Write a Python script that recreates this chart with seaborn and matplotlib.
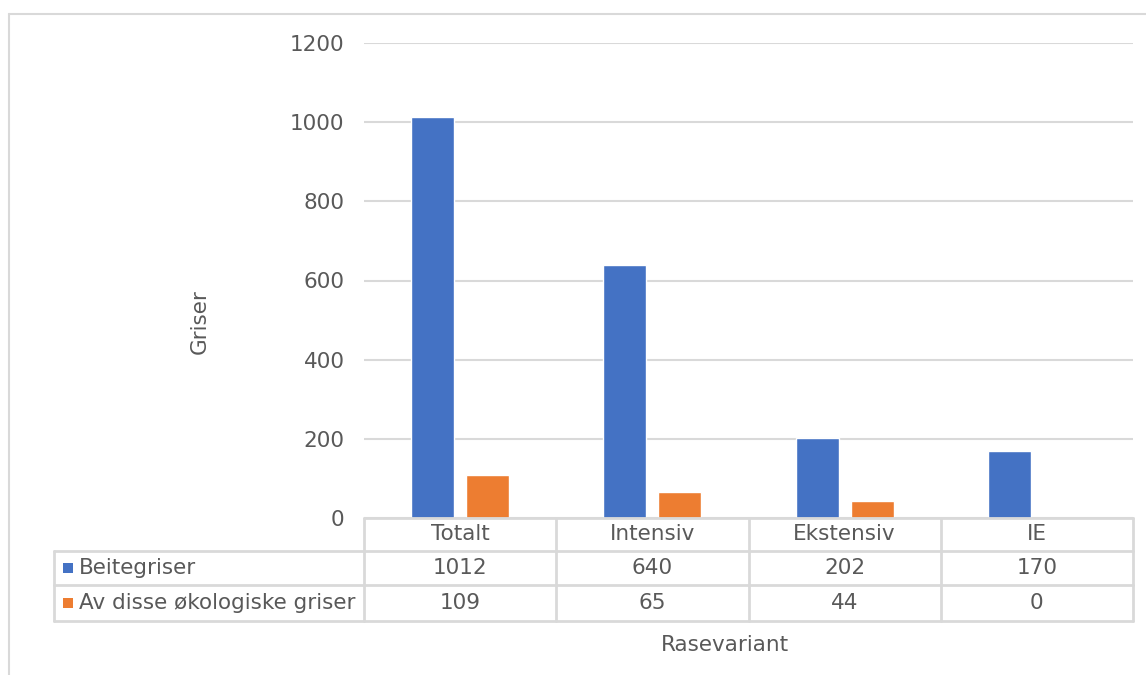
import matplotlib
matplotlib.use("Agg")
import matplotlib.pyplot as plt
import seaborn as sns
import pandas as pd
from matplotlib.lines import Line2D
from matplotlib.patches import Rectangle

categories = ["Totalt", "Intensiv", "Ekstensiv", "IE"]
series_names = ["Beitegriser", "Av disse økologiske griser"]
beitegriser = [1012, 640, 202, 170]
okologiske = [109, 65, 44, 0]
colors = ["#4472C4", "#ED7D31"]
yticks = [0, 200, 400, 600, 800, 1000, 1200]

sns.set_theme(style="white")
plt.rcParams["font.family"] = ["DejaVu Sans"]
TXT = "#595959"
GRID = "#D9D9D9"
FS = 15.5

df = pd.DataFrame({
    "Rasevariant": categories * 2,
    "Serie": [series_names[0]] * 4 + [series_names[1]] * 4,
    "Griser": beitegriser + okologiske,
})

W, H = 1146, 675
fig = plt.figure(figsize=(W / 100, H / 100), dpi=100)

def fx(px):
    return px / W

def fy(py):
    return 1 - py / H

ax_l, ax_r, ax_t, ax_b = 364, 1133, 43, 518
ax = fig.add_axes([fx(ax_l), fy(ax_b), fx(ax_r - ax_l), fy(ax_t) - fy(ax_b)])
sns.barplot(data=df, x="Rasevariant", y="Griser", hue="Serie", order=categories,
            hue_order=series_names, palette=colors, width=0.572, gap=0.22,
            saturation=1, ax=ax, legend=False)
ax.set_ylim(0, 1200)
ax.set_xlim(-0.5, len(categories) - 0.5)
ax.set_yticks(yticks)
ax.set_yticklabels([str(t) for t in yticks], fontsize=FS, color=TXT)
ax.tick_params(axis="y", length=0, pad=14)
ax.set_xticks([])
ax.set_xlabel("")
ax.set_ylabel("")
ax.grid(axis="y", color=GRID, linewidth=1.5)
ax.set_axisbelow(True)
for s in ax.spines.values():
    s.set_visible(False)

# Outer chart border
lc = "#D9D9D9"
fig.add_artist(Line2D([fx(9), fx(W)], [fy(14), fy(14)], color=lc, lw=1.5))
fig.add_artist(Line2D([fx(9), fx(9)], [fy(14), fy(H)], color=lc, lw=1.5))

# Data table
col_edges = [ax_l + i * (ax_r - ax_l) / 4 for i in range(5)]
row_y = [518, 551, 585, 621]
tlw = 2.0
tab_left = 54
fig.add_artist(Line2D([fx(ax_l), fx(ax_r)], [fy(row_y[0])] * 2, color=lc, lw=tlw))
for yy in row_y[1:]:
    fig.add_artist(Line2D([fx(tab_left), fx(ax_r)], [fy(yy)] * 2, color=lc, lw=tlw))
for xx in col_edges:
    fig.add_artist(Line2D([fx(xx)] * 2, [fy(row_y[0]), fy(row_y[3])], color=lc, lw=tlw))
fig.add_artist(Line2D([fx(tab_left)] * 2, [fy(row_y[1]), fy(row_y[3])], color=lc, lw=tlw))

for i, cat in enumerate(categories):
    cx = (col_edges[i] + col_edges[i + 1]) / 2
    fig.text(fx(cx), fy((row_y[0] + row_y[1]) / 2), cat, ha="center", va="center",
             fontsize=FS, color=TXT)
    fig.text(fx(cx), fy((row_y[1] + row_y[2]) / 2), str(beitegriser[i]), ha="center",
             va="center", fontsize=FS, color=TXT)
    fig.text(fx(cx), fy((row_y[2] + row_y[3]) / 2), str(okologiske[i]), ha="center",
             va="center", fontsize=FS, color=TXT)

for r, (name, c) in enumerate(zip(series_names, colors)):
    cy = (row_y[1 + r] + row_y[2 + r]) / 2
    fig.add_artist(Rectangle((fx(63), fy(cy + 5)), fx(10), fy(cy - 5) - fy(cy + 5),
                             color=c, lw=0))
    fig.text(fx(79), fy(cy), name, ha="left", va="center", fontsize=FS, color=TXT)

fig.text(fx(200), fy(322), "Griser", rotation=90, ha="center", va="center",
         fontsize=FS, color=TXT)
fig.text(fx(725), fy(645), "Rasevariant", ha="center", va="center",
         fontsize=FS, color=TXT)

fig.savefig("out.png", dpi=100)
